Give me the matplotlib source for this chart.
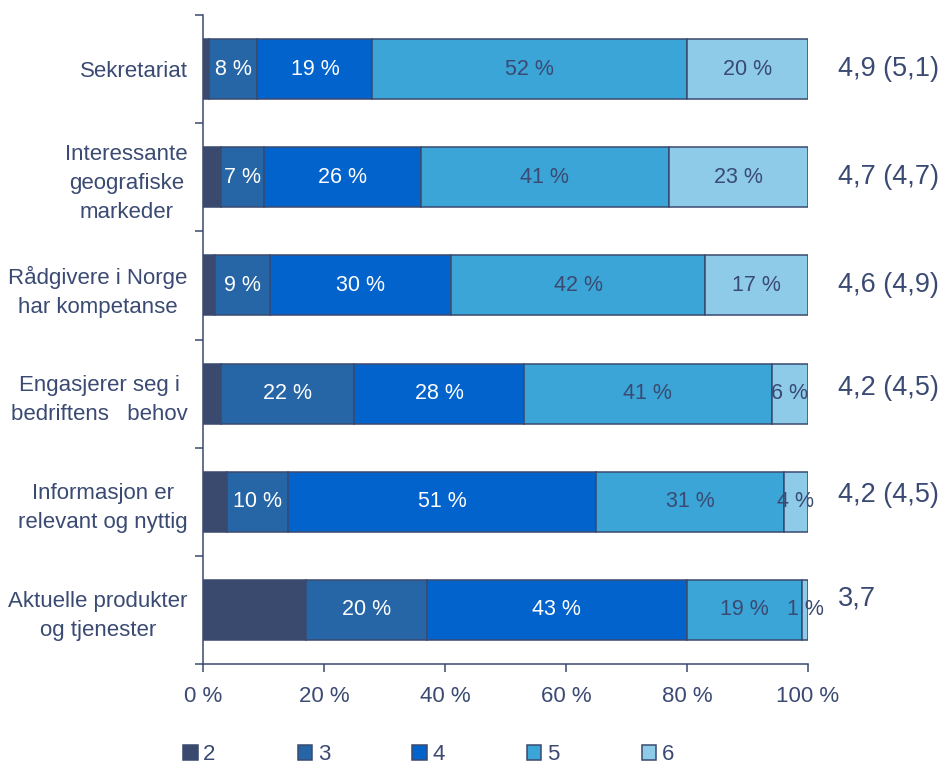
import matplotlib
matplotlib.use("Agg")
import matplotlib.pyplot as plt
import numpy as np

plt.rcParams['font.family'] = ['Liberation Sans', 'DejaVu Sans']

# Survey statements (top to bottom)
categories = [
    "Sekretariat",
    "Interessante\ngeografiske\nmarkeder",
    "Rådgivere i Norge\nhar kompetanse",
    "Engasjerer seg i\nbedriftens   behov",
    "Informasjon er\nrelevant og nyttig",
    "Aktuelle produkter\nog tjenester",
]

# Share of answers per score (percent)
score_2 = [1, 3, 2, 3, 4, 17]
score_3 = [8, 7, 9, 22, 10, 20]
score_4 = [19, 26, 30, 28, 51, 43]
score_5 = [52, 41, 42, 41, 31, 19]
score_6 = [20, 23, 17, 6, 4, 1]

series_names = ["2", "3", "4", "5", "6"]
series_values = [score_2, score_3, score_4, score_5, score_6]

# Mean score (previous year's mean in brackets)
mean_labels = ["4,9 (5,1)", "4,7 (4,7)", "4,6 (4,9)", "4,2 (4,5)", "4,2 (4,5)", "3,7"]

x_ticks = [0, 20, 40, 60, 80, 100]
x_ticklabels = ["0 %", "20 %", "40 %", "60 %", "80 %", "100 %"]

colors = ["#3a4a6e", "#2666a6", "#0363cc", "#3aa5d6", "#8ecbe8"]
label_colors = [None, "white", "white", "#3a4a72", "#3a4a72"]
ink = "#3a4a72"
edge = "#3a4a6e"

fig = plt.figure(figsize=(9.46, 7.67), dpi=100)
ax = fig.add_axes([0.2146, 0.1343, 0.8541 - 0.2146, 0.9804 - 0.1343])

y = np.arange(len(categories))
left = np.zeros(len(categories))
for name, vals, col, lcol in zip(series_names, series_values, colors, label_colors):
    vals = np.array(vals, dtype=float)
    ax.barh(y, vals, left=left, height=0.555, color=col,
            edgecolor=edge, linewidth=1.1, label=name, zorder=2)
    if lcol is not None:
        for yi, (l, v) in enumerate(zip(left, vals)):
            ax.text(l + v / 2, yi, f"{int(v)} %", ha="center", va="center",
                    color=lcol, fontsize=15.5, zorder=3)
    left += vals

# Mean score annotations to the right of the bars
mean_offsets = [0.0, 0.0, 0.0, -0.05, -0.06, -0.11]
for yi, (txt, off) in enumerate(zip(mean_labels, mean_offsets)):
    ax.text(105, yi + off, txt, ha="left", va="center", color=ink,
            fontsize=19.5, clip_on=False)

ax.set_xlim(0, 100)
ax.set_ylim(len(categories) - 0.5, -0.5)

# Category labels on minor ticks, boundary marks on major ticks
ax.set_yticks(np.arange(len(categories) + 1) - 0.5)
ax.set_yticklabels([])
ax.set_yticks(y, minor=True)
ax.set_yticklabels(categories, minor=True, fontsize=16, color=ink,
                   multialignment="center", linespacing=1.5)
ax.tick_params(axis="y", which="major", length=5.5, width=1.1, color=edge,
               direction="out")
ax.tick_params(axis="y", which="minor", length=0, pad=11)

ax.set_xticks(x_ticks)
ax.set_xticklabels(x_ticklabels, fontsize=16, color=ink)
ax.tick_params(axis="x", length=6, width=1.1, color=edge, direction="out", pad=10)

for s in ["top", "right"]:
    ax.spines[s].set_visible(False)
for s in ["left", "bottom"]:
    ax.spines[s].set_color(edge)
    ax.spines[s].set_linewidth(1.1)

leg = fig.legend(loc="center", bbox_to_anchor=(0.453, 0.016), ncol=5,
                 frameon=False, fontsize=16, handlelength=0.65,
                 handleheight=0.65, handletextpad=0.25, columnspacing=3.7,
                 borderpad=0.1)
for t in leg.get_texts():
    t.set_color(ink)

fig.savefig("out.png", dpi=100)
